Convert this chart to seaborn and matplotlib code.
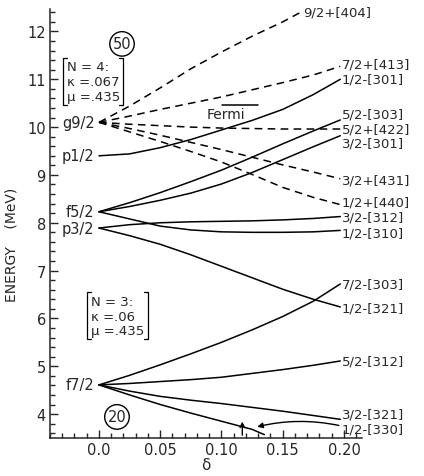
"""
Nilsson-type level diagram: single-particle energies vs deformation.
"""

import pandas as pd
import matplotlib.pyplot as plt
import seaborn as sns
from matplotlib.ticker import MultipleLocator, FixedLocator

# deformation grid the curves were read at
DELTA = [0.0, 0.025, 0.05, 0.075, 0.10, 0.125, 0.15, 0.175, 0.197]
DELTA_404 = [0.0, 0.025, 0.05, 0.075, 0.10, 0.125, 0.15, 0.166]
DELTA_330 = [0.0, 0.025, 0.05, 0.075, 0.10, 0.125, 0.135]

# N = 4 (positive parity, dashed)
E_404 = [10.10, 10.44, 10.82, 11.22, 11.57, 11.90, 12.20, 12.42]
E_413 = [10.10, 10.23, 10.37, 10.50, 10.63, 10.78, 10.93, 11.09, 11.27]
E_422 = [10.10, 10.06, 10.03, 10.00, 9.98, 9.97, 9.96, 9.96, 9.96]
E_431 = [10.10, 9.97, 9.83, 9.68, 9.53, 9.37, 9.21, 9.06, 8.92]
E_440 = [10.10, 9.90, 9.70, 9.49, 9.27, 9.01, 8.74, 8.53, 8.38]

# N = 3 (negative parity, solid)
E_301A = [9.40, 9.44, 9.57, 9.74, 9.94, 10.14, 10.37, 10.68, 11.00]
E_303A = [8.23, 8.42, 8.63, 8.86, 9.10, 9.37, 9.65, 9.92, 10.15]
E_301B = [8.23, 8.34, 8.47, 8.62, 8.81, 9.05, 9.32, 9.59, 9.82]
E_312A = [7.89, 7.96, 8.00, 8.02, 8.03, 8.04, 8.06, 8.09, 8.13]
E_310 = [8.23, 8.08, 7.93, 7.85, 7.81, 7.80, 7.80, 7.81, 7.84]
E_321A = [7.89, 7.73, 7.55, 7.33, 7.09, 6.85, 6.61, 6.40, 6.24]
E_303B = [4.61, 4.81, 5.03, 5.26, 5.50, 5.76, 6.04, 6.36, 6.72]
E_312B = [4.61, 4.64, 4.68, 4.72, 4.77, 4.85, 4.93, 5.02, 5.11]
E_321B = [4.61, 4.48, 4.37, 4.29, 4.22, 4.14, 4.06, 3.97, 3.89]
E_330 = [4.61, 4.40, 4.20, 4.02, 3.85, 3.68, 3.57]

# name, parity, delta grid, energies, label position (delta, energy)
ORBITALS = [
    ("9/2+[404]", "+", DELTA_404, E_404, (0.167, 12.41)),
    ("7/2+[413]", "+", DELTA, E_413, (0.198, 11.31)),
    ("5/2+[422]", "+", DELTA, E_422, (0.198, 9.97)),
    ("3/2+[431]", "+", DELTA, E_431, (0.198, 8.90)),
    ("1/2+[440]", "+", DELTA, E_440, (0.198, 8.43)),
    ("1/2-[301]", "-", DELTA, E_301A, (0.198, 11.00)),
    ("5/2-[303]", "-", DELTA, E_303A, (0.198, 10.28)),
    ("3/2-[301]", "-", DELTA, E_301B, (0.198, 9.66)),
    ("3/2-[312]", "-", DELTA, E_312A, (0.198, 8.12)),
    ("1/2-[310]", "-", DELTA, E_310, (0.198, 7.79)),
    ("7/2-[303]", "-", DELTA, E_303B, (0.198, 6.72)),
    ("1/2-[321]", "-", DELTA, E_321A, (0.198, 6.22)),
    ("5/2-[312]", "-", DELTA, E_312B, (0.198, 5.11)),
    ("3/2-[321]", "-", DELTA, E_321B, (0.198, 4.01)),
    ("1/2-[330]", "-", DELTA_330, E_330, (0.198, 3.69)),
]

# spherical levels at delta = 0
SPHERICAL = ["g9/2", "p1/2", "f5/2", "p3/2", "f7/2"]
SPHERICAL_E = [10.09, 9.40, 8.23, 7.89, 4.61]

rows = []
for name, parity, d, e, _ in ORBITALS:
    for x, y in zip(d, e):
        rows.append({"orbital": name, "parity": parity, "delta": x, "energy": y})
df = pd.DataFrame(rows)

sns.set_style("ticks")
plt.rcParams["font.family"] = ["DejaVu Sans"]

fig = plt.figure(figsize=(4.24, 4.77), dpi=100)
ax = fig.add_axes([0.1179, 0.0797, 0.7358, 0.8994])

sns.lineplot(data=df, x="delta", y="energy", units="orbital", estimator=None,
             style="parity", dashes={"+": (5, 3.5), "-": ""}, color="black",
             lw=1.1, legend=False, sort=False, ax=ax)

ax.set_xlim(-0.04, 0.2147)
ax.set_ylim(3.5, 12.47)

# orbital labels at the right end
for name, parity, d, e, (lx, ly) in ORBITALS:
    ax.text(lx, ly, name, fontsize=9.5, ha="left", va="center", clip_on=False)

for name, e in zip(SPHERICAL, SPHERICAL_E):
    ax.text(-0.0035, e, name, fontsize=10.5, ha="right", va="center")

# parameter boxes
def bracket_box(x0, x1, y0, y1, lines, ys, xt):
    s = 0.003
    ax.plot([x0 + s, x0, x0, x0 + s], [y0, y0, y1, y1], color="k", lw=0.9)
    ax.plot([x1 - s, x1, x1, x1 - s], [y0, y0, y1, y1], color="k", lw=0.9)
    for t, y in zip(lines, ys):
        ax.text(xt, y, t, fontsize=9.5, ha="left", va="center")

bracket_box(-0.0294, 0.0196, 11.45, 10.46, ["N = 4:", "κ =.067", "μ =.435"],
            [11.26, 10.95, 10.65], -0.026)
bracket_box(-0.0098, 0.040, 6.55, 5.57, ["N = 3:", "κ =.06", "μ =.435"],
            [6.36, 6.05, 5.74], -0.0065)

# magic numbers
for txt, x, y in [("50", 0.0188, 11.74), ("20", 0.0147, 3.94)]:
    ax.text(x, y, txt, fontsize=10.5, ha="center", va="center",
            bbox=dict(boxstyle="circle,pad=0.2", fc="none", ec="k", lw=1))

# Fermi marker
ax.text(0.1037, 10.28, "Fermi", fontsize=10, ha="center", va="center")
ax.plot([0.1004, 0.1298], [10.46, 10.46], color="k", lw=1.1)

# arrows near the bottom
ax.annotate("", xy=(0.127, 3.72), xytext=(0.198, 3.75),
            arrowprops=dict(arrowstyle="-|>", connectionstyle="arc3,rad=0.12",
                            color="k", lw=1, mutation_scale=8))
ax.annotate("", xy=(0.117, 3.9), xytext=(0.117, 3.5),
            arrowprops=dict(arrowstyle="->", color="k", lw=1, mutation_scale=8))

# axes styling
sns.despine(ax=ax)
for sp in ["left", "bottom"]:
    ax.spines[sp].set_linewidth(1.1)
ax.xaxis.set_major_locator(FixedLocator([0.0, 0.05, 0.10, 0.15, 0.20]))
ax.set_xticklabels(["0.0", "0.05", "0.10", "0.15", "0.20"])
ax.xaxis.set_minor_locator(MultipleLocator(0.01))
ax.yaxis.set_major_locator(MultipleLocator(1))
ax.yaxis.set_minor_locator(MultipleLocator(0.2))
ax.tick_params(which="both", direction="in", width=1.0, labelsize=10.5, pad=3)
ax.tick_params(which="major", length=6)
ax.tick_params(which="minor", length=3.5)

ax.set_xlabel("δ", fontsize=11, labelpad=0)
ax.set_ylabel("ENERGY    (MeV)", fontsize=10)
ax.yaxis.set_label_coords(-0.1, 0.452)

fig.savefig("out.png", dpi=100)
